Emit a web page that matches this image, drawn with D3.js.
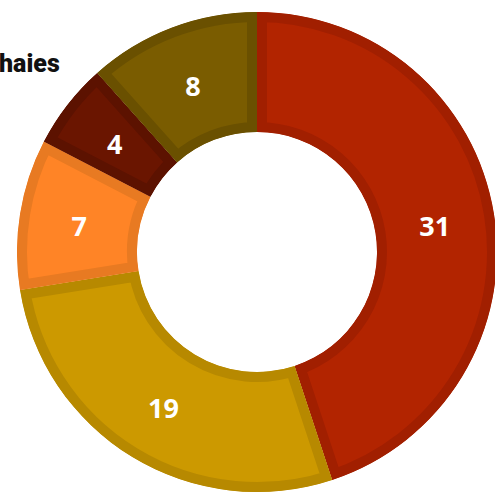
<!DOCTYPE html>
<html>
<head>
<meta charset="utf-8">
<script src="https://cdn.jsdelivr.net/npm/d3@7"></script>
<style>
  html, body { margin: 0; padding: 0; background: #fff; overflow: hidden; }
  svg { display: block; }
</style>
</head>
<body>
<svg id="chart" width="495" height="492"></svg>
<script>
// chart values, clockwise from the top
var labels = ['A', 'B', 'C', 'D', 'E'];
var values = [31, 19, 7, 4, 8];
var fills = ['#b22400', '#cc9900', '#ff8426', '#6a1500', '#7a5c00'];
var strokes = ['#a11f00', '#b78900', '#e87a22', '#5c1200', '#6a5000'];
var titleText = 'haies';

var width = 495, height = 492;
var cx = 257, cy = 252;
var outerR = 240, innerR = 120;

var svg = d3.select('#chart');

// cut-off title at the top left
svg.append('text')
  .attr('x', -1)
  .attr('y', 72)
  .attr('font-family', 'Roboto, sans-serif')
  .attr('font-weight', 900)
  .attr('font-size', 25)
  .attr('fill', '#111')
  .text(titleText);

var pie = d3.pie().sort(null).value(function (d) { return d; });
var arc = d3.arc().innerRadius(innerR).outerRadius(outerR);
var arcs = pie(values);

var g = svg.append('g').attr('transform', 'translate(' + cx + ',' + cy + ')');
var defs = svg.append('defs');

arcs.forEach(function (a, i) {
  // clip each slice to itself so the border sits inside it
  defs.append('clipPath')
    .attr('id', 'clip-' + i)
    .append('path')
    .attr('d', arc(a));

  g.append('path')
    .attr('d', arc(a))
    .attr('fill', fills[i])
    .attr('stroke', strokes[i])
    .attr('stroke-width', 20)
    .attr('stroke-linejoin', 'miter')
    .attr('clip-path', 'url(#clip-' + i + ')');
});

// value labels at the slice centres
g.selectAll('.slice-label')
  .data(arcs)
  .enter()
  .append('text')
  .classed('slice-label', true)
  .attr('transform', function (d) { return 'translate(' + arc.centroid(d) + ')'; })
  .attr('text-anchor', 'middle')
  .attr('dy', '0.45em')
  .attr('font-family', '"Open Sans", sans-serif')
  .attr('font-weight', 'bold')
  .attr('font-size', 27)
  .attr('fill', '#fff')
  .text(function (d) { return d.data; });
</script>
</body>
</html>
